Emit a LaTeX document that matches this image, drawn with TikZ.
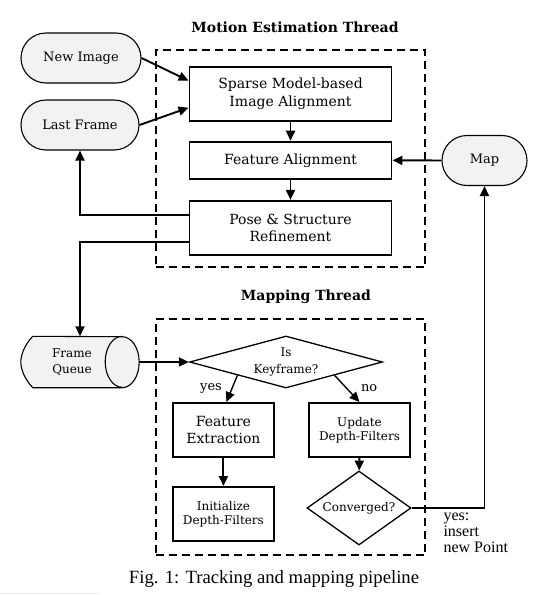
\documentclass[tikz,border=0pt]{standalone}
\usepackage{xcolor}
\usepackage{fontspec}
\setmainfont{DejaVu Serif}
\newfontfamily\timesfont{Liberation Serif}
\usepackage{tikz}
\usetikzlibrary{shapes.geometric, shapes.misc, arrows.meta}

\begin{document}
\begin{tikzpicture}[x=1pt, y=-1pt,
    box/.style={draw, rectangle, line width=1.9pt, align=center, inner sep=0pt, font=\fontsize{14}{17.3}\selectfont},
    smallbox/.style={box, font=\fontsize{12}{14.5}\selectfont},
    term/.style={draw, rounded rectangle, line width=1.1pt, fill=black!5, minimum height=50pt, inner sep=0pt, font=\fontsize{13}{16}\selectfont},
    decision/.style={draw, diamond, line width=1.3pt, inner sep=0pt, align=center, font=\fontsize{12}{17}\selectfont},
    thread/.style={draw, rectangle, line width=1.8pt, dash pattern=on 8pt off 5pt},
    title/.style={font=\bfseries\fontsize{14}{16}\selectfont},
    arr/.style={-{Triangle[length=10pt, width=9pt]}, line width=1.9pt},
    lbl/.style={font=\fontsize{13}{16}\selectfont}]
            \useasboundingbox (0,0) rectangle (548,595);

            \node[thread, minimum width=269.6pt, minimum height=217.3pt] (motion) at (290.5,158.7) {};
            \node[title] (motiontitle) at (295,27) {Motion Estimation Thread};
            \node[thread, minimum width=269.6pt, minimum height=236pt] (mapping) at (290.5,437) {};
            \node[title] (mappingtitle) at (306,297) {Mapping Thread};

            \node[term, minimum width=120pt] (newimg) at (81,58) {New Image};
            \node[term, minimum width=118pt] (lastfr) at (80,125) {Last Frame};
            \node[term, minimum width=85pt] (map) at (484.5,160.5) {Map};

            \node[box, minimum width=202pt, minimum height=54pt] (sparse) at (290.5,93.7) {Sparse Model-based\\Image Alignment};
            \node[box, minimum width=202pt, minimum height=37.3pt] (featal) at (290.5,160.3) {Feature Alignment};
            \node[box, minimum width=202pt, minimum height=54.3pt] (pose) at (290.5,228) {Pose \& Structure\\Refinement};

            \node[minimum width=118pt, minimum height=51pt, inner sep=0pt] (queue) at (80,362) {};
            \draw[line width=1.1pt, fill=black!5] ([xshift=12pt]queue.north west) .. controls ([xshift=4pt, yshift=-8pt]queue.north west) and ([yshift=7pt]queue.west) .. (queue.west) .. controls ([yshift=-7pt]queue.west) and ([xshift=4pt, yshift=8pt]queue.south west) .. ([xshift=12pt]queue.south west) -- ([xshift=-17pt]queue.south east) arc[start angle=-90, end angle=90, x radius=17pt, y radius=25.5pt] -- cycle;
            \draw[line width=1.1pt] ([xshift=-17pt]queue.north east) arc[start angle=90, end angle=270, x radius=17pt, y radius=25.5pt];
            \node[align=center, font=\fontsize{12}{16.5}\selectfont] (queuetext) at (72,362) {Frame\\Queue};

            \node[decision, aspect=3.7, minimum width=193pt, minimum height=52pt] (key) at (286,362) {Is\\Keyframe?};
            \node[box, minimum width=101pt, minimum height=54pt] (featex) at (223.4,430) {Feature\\Extraction};
            \node[smallbox, minimum width=101pt, minimum height=54pt] (initdf) at (223.4,514) {Initialize\\Depth-Filters};
            \node[smallbox, minimum width=101pt, minimum height=54pt] (update) at (359.5,430) {Update\\Depth-Filters};
            \node[decision, aspect=1.4, minimum width=104pt, minimum height=74pt] (conv) at (359,508) {Converged?};

            \draw[arr] (newimg.east) -- ([yshift=13pt]sparse.west);
            \draw[arr] (lastfr.east) -- ([yshift=-14pt]sparse.west);
            \draw[arr] (sparse) -- (featal);
            \draw[arr] (featal) -- (pose);
            \draw[arr] (map) -- (featal);
            \draw[arr] ([yshift=13pt]pose.west) -| (lastfr.south);
            \draw[arr] ([yshift=-14pt]pose.west) -| (queue.north);
            \draw[arr] (queue.east) -- (key.west);
            \draw[arr, line width=1.4pt] (key.south west) -- node[lbl, left=6pt] {yes} ([xshift=3pt]featex.north);
            \draw[arr, line width=1.4pt] (key.south east) -- node[lbl, right=10pt, yshift=1pt] {no} (update.north);
            \draw[arr] (featex) -- (initdf);
            \draw[arr] (update) -- (conv);
            \draw[arr] (conv.east) -| (map.south);
            \node[align=left, anchor=west, font=\timesfont\fontsize{16}{16}\selectfont] (insert) at (440,533) {yes:\\insert\\new Point};

            \node[font=\timesfont\fontsize{18.7}{20}\selectfont] (caption) at (274,579) {Fig. 1: Tracking and mapping pipeline};
            \draw[black!8, line width=1pt] (0,593.5) -- (100,593.5);
        \end{tikzpicture}
\end{document}
